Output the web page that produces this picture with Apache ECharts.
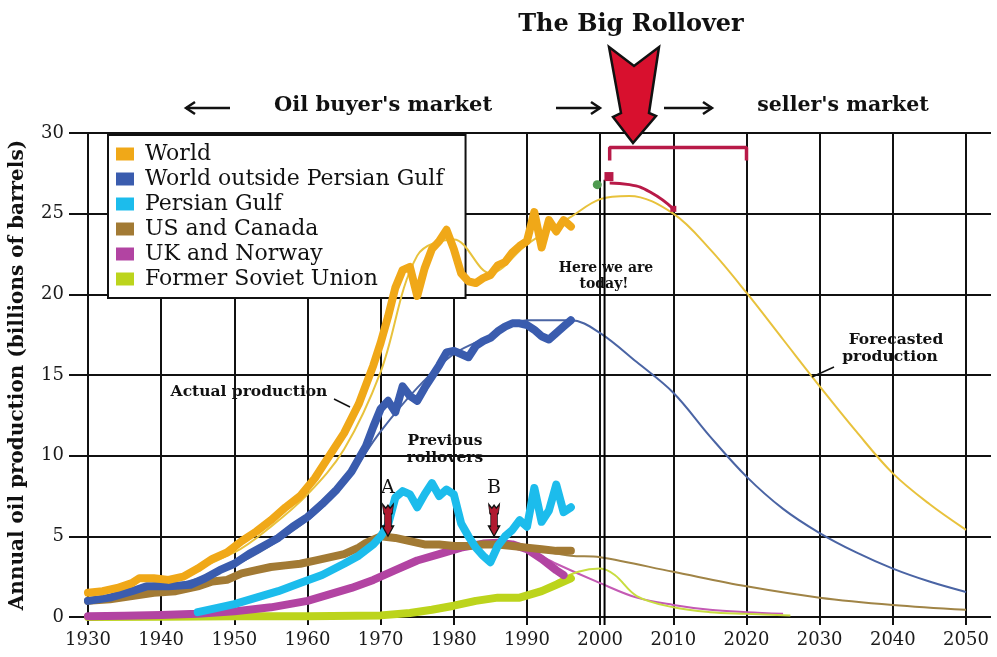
<!DOCTYPE html>
<html>
<head>
<meta charset="utf-8">
<title>The Big Rollover</title>
<script src="https://cdn.jsdelivr.net/npm/echarts@6/dist/echarts.min.js"></script>
<style>
  html, body { margin: 0; padding: 0; background: #fff; }
  #chart { width: 997px; height: 657px; }
</style>
</head>
<body>
<div id="chart"></div>
<script>
// names shown in the legend
const seriesNames = ['World', 'World outside Persian Gulf', 'Persian Gulf', 'US and Canada', 'UK and Norway', 'Former Soviet Union'];
const seriesColors = ['#f0a818', '#3a5cae', '#1cbcec', '#a27a34', '#b244a2', '#bcd41c'];
const thinColors = ['#e8c23c', '#4a64a4', '#1cbcec', '#a08446', '#c45ab4', '#c8dc40'];

const xTicks = { min: 1930, max: 2050, step: 10 };
const yTicks = { min: 0, max: 30, step: 5 };

// actual production (thick lines), [year, billions of barrels]
const worldActual = [[1930,1.5],[1932,1.6],[1934,1.8],[1936,2.1],[1937,2.4],[1939,2.4],[1941,2.3],[1943,2.5],[1945,3.0],[1947,3.6],[1949,4.0],[1951,4.7],[1953,5.3],[1955,6.0],[1957,6.8],[1959,7.5],[1961,8.6],[1963,10.0],[1965,11.4],[1967,13.2],[1969,15.6],[1970,17.0],[1971,18.6],[1972,20.4],[1973,21.5],[1974,21.7],[1975,19.9],[1976,21.6],[1977,22.8],[1978,23.3],[1979,24.0],[1980,22.8],[1981,21.3],[1982,20.8],[1983,20.7],[1984,21.0],[1985,21.2],[1986,21.8],[1987,22.0],[1988,22.6],[1989,23.0],[1990,23.3],[1991,25.1],[1992,22.9],[1993,24.6],[1994,23.9],[1995,24.6],[1996,24.2]];
const outsideGulfActual = [[1930,1.0],[1933,1.2],[1936,1.6],[1938,1.9],[1941,1.9],[1944,2.0],[1946,2.4],[1948,2.9],[1950,3.3],[1952,3.9],[1954,4.4],[1956,4.9],[1958,5.6],[1960,6.2],[1962,7.0],[1964,7.9],[1966,9.0],[1968,10.6],[1969,11.8],[1970,12.9],[1971,13.4],[1972,12.7],[1973,14.3],[1974,13.7],[1975,13.4],[1976,14.2],[1977,14.9],[1978,15.6],[1979,16.4],[1980,16.5],[1981,16.3],[1982,16.1],[1983,16.8],[1984,17.1],[1985,17.3],[1986,17.7],[1987,18.0],[1988,18.2],[1989,18.2],[1990,18.1],[1991,17.8],[1992,17.4],[1993,17.2],[1994,17.6],[1995,18.0],[1996,18.4]];
const gulfActual = [[1945,0.3],[1948,0.6],[1950,0.8],[1953,1.2],[1956,1.6],[1959,2.1],[1962,2.6],[1965,3.3],[1967,3.8],[1969,4.5],[1970,5.0],[1971,5.7],[1972,7.4],[1973,7.8],[1974,7.6],[1975,6.8],[1976,7.6],[1977,8.3],[1978,7.5],[1979,7.9],[1980,7.6],[1981,5.8],[1982,5.0],[1983,4.3],[1984,3.8],[1985,3.4],[1986,4.4],[1987,5.0],[1988,5.4],[1989,6.0],[1990,5.6],[1991,8.0],[1992,5.9],[1993,6.6],[1994,8.2],[1995,6.5],[1996,6.8]];
const usCanadaActual = [[1930,1.0],[1933,1.1],[1936,1.3],[1939,1.5],[1942,1.6],[1945,1.9],[1947,2.2],[1949,2.3],[1951,2.7],[1953,2.9],[1955,3.1],[1957,3.2],[1959,3.3],[1961,3.5],[1963,3.7],[1965,3.9],[1966,4.1],[1967,4.3],[1968,4.6],[1969,4.8],[1970,5.0],[1972,4.9],[1974,4.7],[1976,4.5],[1978,4.5],[1980,4.4],[1982,4.4],[1984,4.5],[1986,4.5],[1988,4.4],[1990,4.3],[1992,4.2],[1994,4.1],[1996,4.1]];
const ukNorwayActual = [[1930,0.05],[1935,0.08],[1940,0.12],[1945,0.2],[1950,0.35],[1955,0.6],[1960,1.0],[1963,1.4],[1966,1.8],[1969,2.3],[1972,2.9],[1975,3.5],[1978,3.9],[1981,4.3],[1984,4.55],[1986,4.6],[1988,4.5],[1990,4.2],[1992,3.6],[1994,2.9],[1995,2.6]];
const sovietActual = [[1930,0.0],[1940,0.02],[1950,0.05],[1960,0.05],[1970,0.1],[1974,0.25],[1977,0.45],[1980,0.7],[1983,1.0],[1986,1.2],[1989,1.2],[1992,1.6],[1994,2.0],[1996,2.4]];

// model / forecasted production (thin lines)
const worldForecast = [[1930,1.4],[1940,2.2],[1950,4.0],[1955,5.6],[1960,7.6],[1965,10.4],[1970,15.2],[1975,22.4],[1980,23.4],[1985,21.3],[1990,23.1],[1996,24.8],[2000,25.9],[2004,26.1],[2010,25.0],[2015,22.8],[2020,20.1],[2025,17.2],[2030,14.3],[2035,11.5],[2040,8.9],[2045,7.0],[2050,5.4]];
const outsideGulfForecast = [[1930,1.0],[1940,1.8],[1950,3.2],[1960,6.0],[1965,8.3],[1970,11.5],[1975,14.2],[1980,16.3],[1985,17.4],[1990,18.4],[1996,18.4],[2000,17.6],[2005,15.8],[2010,13.9],[2015,11.2],[2020,8.7],[2025,6.7],[2030,5.2],[2035,4.0],[2040,3.0],[2045,2.2],[2050,1.55]];
const usCanadaForecast = [[1980,4.5],[1990,4.2],[1996,3.8],[2000,3.7],[2010,2.8],[2020,1.9],[2030,1.2],[2040,0.75],[2050,0.45]];
const ukNorwayForecast = [[1986,4.6],[1990,4.2],[1994,3.3],[2000,2.1],[2005,1.2],[2010,0.75],[2015,0.45],[2020,0.3],[2025,0.2]];
const sovietForecast = [[1994,2.2],[1997,2.8],[2000,3.0],[2002,2.6],[2005,1.3],[2010,0.6],[2015,0.3],[2020,0.2],[2026,0.1]];

// annotations on the forecast
const todayLine = [[2000.6,27.1],[2000.6,-0.5]];
const rolloverBracket = [[2001.3,28.3],[2001.3,29.1],[2020,29.1],[2020,28.3]];
const rolloverArc = [[2001.3,26.9],[2004,26.8],[2007,26.3],[2010,25.3]];
const previousRollovers = [[1971,6.0,'A'],[1985.5,6.0,'B']];

const actualSets = [worldActual, outsideGulfActual, gulfActual, usCanadaActual, ukNorwayActual, sovietActual];
const forecastSets = [worldForecast, outsideGulfForecast, null, usCanadaForecast, ukNorwayForecast, sovietForecast];

const serif = 'DejaVu Serif';
const crimson = '#b81a48';

const chart = echarts.init(document.getElementById('chart'));

const series = [];
// thin forecast lines under the thick ones
forecastSets.forEach((d, i) => {
  if (!d) return;
  series.push({
    name: seriesNames[i] + ' forecast',
    type: 'line',
    data: d,
    smooth: 0.35,
    symbol: 'none',
    z: 3,
    lineStyle: { color: thinColors[i], width: 2 },
    itemStyle: { color: thinColors[i] },
  });
});
// thick actual lines, World drawn last (on top)
for (let i = actualSets.length - 1; i >= 0; i -= 1) {
  series.push({
    name: seriesNames[i],
    type: 'line',
    data: actualSets[i],
    symbol: 'none',
    z: 4,
    lineStyle: { color: seriesColors[i], width: 8, join: 'round', cap: 'round' },
    itemStyle: { color: seriesColors[i] },
  });
}
series.push({
  type: 'line', data: todayLine, symbol: 'none', z: 5, clip: false,
  lineStyle: { color: '#000', width: 2 },
});
series.push({
  type: 'line', data: rolloverBracket, symbol: 'none', z: 5,
  lineStyle: { color: crimson, width: 3.5 },
});
series.push({
  type: 'line', data: rolloverArc, symbol: 'none', smooth: true, z: 5,
  lineStyle: { color: crimson, width: 3 },
});
series.push({
  type: 'scatter', z: 6,
  data: [[2001.2, 27.3]], symbol: 'rect', symbolSize: 9,
  itemStyle: { color: crimson, opacity: 1 },
});
series.push({
  type: 'scatter', z: 6,
  data: [[2010, 25.3]], symbol: 'rect', symbolSize: [6, 6],
  itemStyle: { color: crimson, opacity: 1 },
});
series.push({
  type: 'scatter', z: 6,
  data: [[1999.6, 26.8]], symbol: 'circle', symbolSize: 9,
  itemStyle: { color: '#4f9a50', opacity: 1 },
});
series.push({
  type: 'scatter', z: 7,
  data: previousRollovers,
  symbol: 'path://M0,0 L3,4 L5,1 L7,4 L10,0 L9,9 L8,10 L8,22 L10,22 L5,32 L0,22 L2,22 L2,10 L1,9 Z',
  symbolSize: [11, 32],
  itemStyle: { color: '#b01a30', borderColor: '#111', borderWidth: 1.2, opacity: 1 },
  label: {
    show: true, position: 'top', distance: 6,
    formatter: (p) => p.value[2],
    fontFamily: serif, fontSize: 19, color: '#111',
  },
});

const txt = (x, y, text, size, extra) => ({
  type: 'text', x, y, z: 100,
  style: Object.assign({
    text, fontFamily: serif, fontSize: size, fill: '#111',
    align: 'center', verticalAlign: 'middle',
  }, extra || {}),
});
const arrowLine = (x1, x2, y, dir) => ({
  type: 'group', z: 100,
  children: [
    { type: 'line', shape: { x1, y1: y, x2, y2: y }, style: { stroke: '#111', lineWidth: 2.5 } },
    {
      type: 'polyline',
      shape: { points: dir < 0 ? [[x1 + 9, y - 6], [x1, y], [x1 + 9, y + 6]] : [[x2 - 9, y - 6], [x2, y], [x2 - 9, y + 6]] },
      style: { stroke: '#111', lineWidth: 2.5, fill: null },
    },
  ],
});

chart.setOption({
  animation: false,
  backgroundColor: '#fff',
  grid: { left: 88, right: 31, top: 133, bottom: 40 },
  legend: {
    data: seriesNames,
    orient: 'vertical',
    left: 108, top: 135,
    padding: [8, 22, 8, 8],
    itemGap: 3,
    itemWidth: 18, itemHeight: 13,
    icon: 'rect',
    backgroundColor: '#fff',
    borderColor: '#111', borderWidth: 2,
    selectedMode: false,
    textStyle: { fontFamily: serif, fontSize: 22, color: '#111', lineHeight: 22, padding: [0, 0, 0, 6] },
    z: 1,
  },
  xAxis: [{
    type: 'value',
    min: xTicks.min, max: xTicks.max, interval: xTicks.step,
    axisLine: { show: true, lineStyle: { color: '#111', width: 2 } },
    axisTick: { show: true, length: 8, lineStyle: { color: '#111', width: 2 } },
    axisLabel: { fontFamily: serif, fontSize: 18, color: '#1a1a1a', margin: 14, formatter: (v) => String(v) },
    splitLine: { show: true, lineStyle: { color: '#111', width: 2 } },
    z: 0,
  }, {
    type: 'value', position: 'top',
    min: xTicks.min, max: xTicks.max, interval: xTicks.step,
    axisLine: { show: false },
    axisTick: { show: true, length: 8, lineStyle: { color: '#111', width: 2 } },
    axisLabel: { show: false },
    splitLine: { show: false },
    z: 0,
  }],
  yAxis: [{
    type: 'value',
    min: yTicks.min, max: yTicks.max, interval: yTicks.step,
    name: 'Annual oil production (billions of barrels)',
    nameLocation: 'middle', nameGap: 60, nameRotate: 90,
    nameTextStyle: { fontFamily: serif, fontSize: 20, fontWeight: 'bold', color: '#111' },
    axisLine: { show: true, lineStyle: { color: '#111', width: 2 } },
    axisTick: { show: true, length: 19, lineStyle: { color: '#111', width: 2 } },
    axisLabel: { fontFamily: serif, fontSize: 18, color: '#1a1a1a', margin: 24 },
    splitLine: { show: true, lineStyle: { color: '#111', width: 2 } },
    z: 0,
  }, {
    type: 'value', position: 'right',
    min: yTicks.min, max: yTicks.max, interval: yTicks.step,
    axisLine: { show: false },
    axisTick: { show: true, length: 25, lineStyle: { color: '#111', width: 2 } },
    axisLabel: { show: false },
    splitLine: { show: false },
    z: 0,
  }],
  series,
  graphic: [
    txt(631, 25, 'The Big Rollover', 24, { fontWeight: 'bold' }),
    arrowLine(186, 230, 108, -1),
    txt(383, 106, "Oil buyer's market", 21, { fontWeight: 'bold' }),
    arrowLine(556, 600, 108, 1),
    arrowLine(664, 712, 108, 1),
    txt(843, 106, "seller's market", 20.5, { fontWeight: 'bold' }),
    {
      type: 'polygon', z: 110,
      shape: { points: [[609, 47], [634, 66], [659, 47], [649, 113], [656, 116], [633, 143], [613, 117], [621, 113]] },
      style: { fill: '#d8102e', stroke: '#111', lineWidth: 2.5 },
    },
    txt(606, 268, 'Here we are', 14, { fontWeight: 'bold' }),
    txt(604, 284, 'today!', 14, { fontWeight: 'bold' }),
    txt(896, 340, 'Forecasted', 15.5, { fontWeight: 'bold' }),
    txt(890, 357, 'production', 15.5, { fontWeight: 'bold' }),
    { type: 'line', z: 100, shape: { x1: 834, y1: 367, x2: 812, y2: 377 }, style: { stroke: '#111', lineWidth: 1.5 } },
    txt(249, 392, 'Actual production', 15.5, { fontWeight: 'bold' }),
    { type: 'line', z: 100, shape: { x1: 334, y1: 399, x2: 350, y2: 407 }, style: { stroke: '#111', lineWidth: 1.5 } },
    txt(445, 441, 'Previous', 15.5, { fontWeight: 'bold' }),
    txt(445, 458, 'rollovers', 15.5, { fontWeight: 'bold' }),
  ],
});
</script>
</body>
</html>
